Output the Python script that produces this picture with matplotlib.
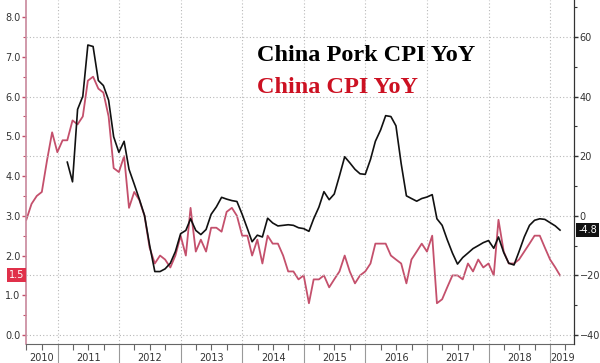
import pandas as pd
import matplotlib
matplotlib.use("Agg")
import matplotlib.pyplot as plt
import matplotlib.dates as mdates
from matplotlib.ticker import MultipleLocator, FormatStrFormatter

# China CPI YoY (%), monthly Jun 2010 - Feb 2019
cpi = [2.9, 3.3, 3.5, 3.6, 4.4, 5.1, 4.6,
       4.9, 4.9, 5.4, 5.3, 5.5, 6.4, 6.5, 6.2, 6.1, 5.5, 4.2, 4.1,
       4.5, 3.2, 3.6, 3.4, 3.0, 2.2, 1.8, 2.0, 1.9, 1.7, 2.0, 2.5,
       2.0, 3.2, 2.1, 2.4, 2.1, 2.7, 2.7, 2.6, 3.1, 3.2, 3.0, 2.5,
       2.5, 2.0, 2.4, 1.8, 2.5, 2.3, 2.3, 2.0, 1.6, 1.6, 1.4, 1.5,
       0.8, 1.4, 1.4, 1.5, 1.2, 1.4, 1.6, 2.0, 1.6, 1.3, 1.5, 1.6,
       1.8, 2.3, 2.3, 2.3, 2.0, 1.9, 1.8, 1.3, 1.9, 2.1, 2.3, 2.1,
       2.5, 0.8, 0.9, 1.2, 1.5, 1.5, 1.4, 1.8, 1.6, 1.9, 1.7, 1.8,
       1.5, 2.9, 2.1, 1.8, 1.8, 1.9, 2.1, 2.3, 2.5, 2.5, 2.2, 1.9,
       1.7, 1.5]

# China Pork CPI YoY (%), monthly Feb 2011 - Feb 2019
pork = [18.0, 11.4, 35.7, 40.1, 57.3, 56.8, 45.4, 43.7, 38.8, 26.5, 21.3,
        25.0, 15.6, 10.6, 5.6, 0.1, -9.8, -18.7, -18.7, -17.8, -15.9, -12.0, -6.0,
        -4.9, -1.0, -4.9, -6.3, -4.6, 0.5, 3.0, 6.2, 5.6, 5.1, 4.8, 0.5,
        -4.3, -8.7, -6.5, -7.1, -0.8, -2.4, -3.4, -3.2, -3.0, -3.2, -4.0, -4.3,
        -5.2, -1.0, 2.9, 8.1, 5.4, 7.3, 13.4, 19.8, 17.8, 15.6, 14.1, 13.9,
        18.9, 25.0, 28.8, 33.6, 33.3, 30.2, 17.5, 6.7, 5.8, 4.9, 5.8, 6.3,
        7.1, -1.0, -3.2, -8.0, -12.5, -16.2, -14.0, -12.5, -11.0, -10.0, -9.0, -8.3,
        -10.9, -7.1, -12.3, -15.9, -16.5, -12.0, -7.1, -3.2, -1.5, -1.0, -1.2, -2.3,
        -3.4, -4.8]

cpi_dates = pd.date_range("2010-06-30", periods=len(cpi), freq="ME")
pork_dates = pd.date_range("2011-02-28", periods=len(pork), freq="ME")
years = list(range(2010, 2020))

red = "#c4506c"
grid_c = "#b8b8b8"

fig = plt.figure(figsize=(6.0, 3.63), dpi=100)
ax = fig.add_axes([0.0433, 0.0523, 0.9134, 0.9477])
ax2 = ax.twinx()

ax.plot(cpi_dates, cpi, color=red, lw=1.3)
ax2.plot(pork_dates, pork, color="#111111", lw=1.2)

x0 = pd.Timestamp("2010-06-28")
x1 = pd.Timestamp("2019-05-22")
ax.set_xlim(x0, x1)
ax.set_ylim(-0.226, 8.43)
ax2.set_ylim((-0.226 - 3) * 40 / 3, (8.43 - 3) * 40 / 3)

# x axis: year boundaries as long ticks, quarters as short ones
bounds = [pd.Timestamp(f"{y}-01-01") for y in years[1:]]
ax.set_xticks(bounds)
ax.set_xticklabels([])
ax.xaxis.set_minor_locator(mdates.MonthLocator(bymonth=[1, 4, 7, 10]))
ax.tick_params(axis="x", which="major", length=20, width=0.8, color="#999999")
ax.tick_params(axis="x", which="minor", length=4, width=0.8, color="#666666")
for y in years:
    a = max(pd.Timestamp(f"{y}-01-01"), x0)
    b = min(pd.Timestamp(f"{y + 1}-01-01"), x1)
    mid = a + (b - a) / 2
    ax.text(mid, -0.04, str(y), transform=ax.get_xaxis_transform(),
            ha="center", va="center", fontsize=7, color="#333333")

# left axis
ax.yaxis.set_major_locator(MultipleLocator(1))
ax.yaxis.set_minor_locator(MultipleLocator(0.5))
ax.yaxis.set_major_formatter(FormatStrFormatter("%.1f"))
ax.tick_params(axis="y", which="major", length=3, width=1, color=red,
               labelsize=7, labelcolor="#333333", pad=1)
ax.tick_params(axis="y", which="minor", length=2, width=0.8, color=red)

# right axis
ax2.yaxis.set_major_locator(MultipleLocator(20))
ax2.yaxis.set_minor_locator(MultipleLocator(10))
ax2.tick_params(axis="y", which="major", length=3, width=1, color="#333333",
                labelsize=7, labelcolor="#333333", pad=1)
ax2.tick_params(axis="y", which="minor", length=2, width=0.8, color="#333333")

# grid
ax.grid(axis="x", which="major", linestyle=(0, (1, 2)), color=grid_c, lw=0.8)
ax2.grid(axis="y", which="major", linestyle=(0, (1, 2)), color=grid_c, lw=0.8)
ax.set_axisbelow(True)

for a in (ax, ax2):
    a.spines["top"].set_visible(False)
ax.spines["left"].set_color("#c8889c")
ax.spines["left"].set_linewidth(1.2)
ax2.spines["left"].set_visible(False)
ax2.spines["right"].set_color("#333333")
ax.spines["bottom"].set_color("#666666")
ax2.spines["bottom"].set_visible(False)

# last-value boxes
ax.text(-0.003, cpi[-1], f"{cpi[-1]:.1f}", transform=ax.get_yaxis_transform(),
        ha="right", va="center", fontsize=7, color="white",
        bbox=dict(boxstyle="square,pad=0.2", fc="#e0304a", ec="none"))
ax2.text(1.008, pork[-1], f"{pork[-1]:.1f}", transform=ax2.get_yaxis_transform(),
         ha="left", va="center", fontsize=7, color="white",
         bbox=dict(boxstyle="square,pad=0.2", fc="#111111", ec="none"))

# legend text
fig.text(0.428, 0.848, "China Pork CPI YoY", family="Liberation Serif",
         fontweight="bold", fontsize=17.5, color="black", va="center")
fig.text(0.428, 0.76, "China CPI YoY", family="Liberation Serif",
         fontweight="bold", fontsize=17.5, color="#cc1122", va="center")

fig.savefig("out.png", dpi=100)
